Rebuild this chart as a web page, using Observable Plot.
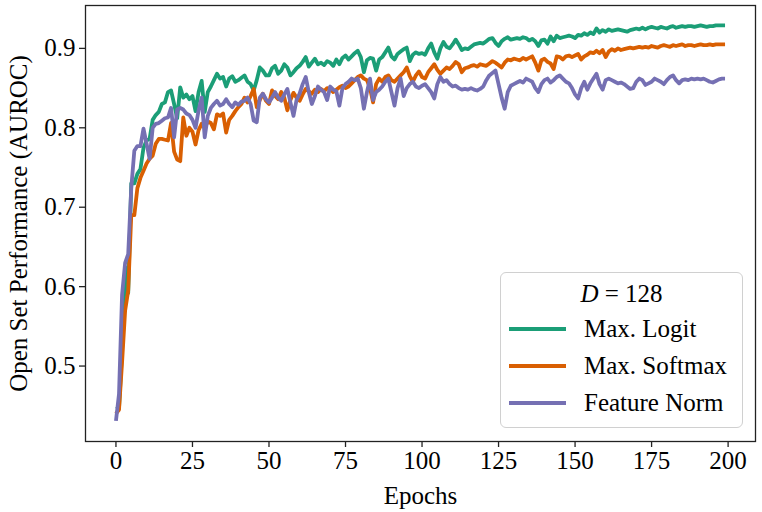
<!DOCTYPE html>
<html>
<head>
<meta charset="utf-8">
<script src="https://cdn.jsdelivr.net/npm/d3@7"></script>
<script src="https://cdn.jsdelivr.net/npm/@observablehq/plot@0.6"></script>
<style>
  html, body { margin: 0; padding: 0; background: #fff; }
  #wrap { position: relative; width: 762px; height: 512px; font-family: "Liberation Serif", "DejaVu Serif", serif; }
  #legend { position: absolute; left: 500px; top: 272px; width: 243px; height: 156px; box-sizing: border-box;
            border: 1.2px solid #d0d0d0; border-radius: 6px; background: rgba(255,255,255,0.85); }
  #legend .title { position: absolute; left: 0; right: 0; top: 6px; text-align: center; font-size: 25px; line-height: 30px; color: #000; }
  #legend .row { position: absolute; left: 0; height: 30px; width: 100%; }
  #legend .sw { position: absolute; left: 8px; top: 13px; width: 57px; height: 3.8px; }
  #legend .lab { position: absolute; left: 83px; top: 0; font-size: 25px; line-height: 30px; color: #000; white-space: nowrap; }
</style>
</head>
<body>
<div id="wrap"></div>
<script>
const seriesNames = ["Max. Logit", "Max. Softmax", "Feature Norm"];
const seriesColors = ["#1b9e77", "#d95f02", "#7570b3"];
const xTicks = [0, 25, 50, 75, 100, 125, 150, 175, 200];
const yTicks = [0.5, 0.6, 0.7, 0.8, 0.9];
const legendTitle = "D = 128";

const maxLogit = [
0.446,0.447,0.52,0.625,0.592,0.73,0.73,0.742,0.748,0.775,
0.784,0.786,0.81,0.816,0.82,0.83,0.832,0.845,0.847,0.83,
0.812,0.851,0.838,0.842,0.836,0.84,0.821,0.845,0.859,0.82,
0.845,0.852,0.86,0.868,0.862,0.864,0.852,0.862,0.865,0.858,
0.86,0.863,0.866,0.858,0.855,0.847,0.86,0.876,0.872,0.866,
0.866,0.875,0.878,0.868,0.872,0.88,0.876,0.866,0.87,0.875,
0.878,0.883,0.889,0.877,0.882,0.887,0.88,0.882,0.879,0.884,
0.882,0.878,0.886,0.88,0.888,0.891,0.886,0.89,0.894,0.897,
0.889,0.87,0.885,0.888,0.887,0.872,0.886,0.889,0.895,0.901,
0.89,0.886,0.893,0.896,0.899,0.901,0.884,0.892,0.895,0.893,
0.894,0.892,0.9,0.906,0.895,0.887,0.9,0.908,0.902,0.9,
0.905,0.911,0.905,0.898,0.9,0.899,0.902,0.905,0.906,0.907,
0.906,0.909,0.912,0.913,0.907,0.903,0.909,0.912,0.914,0.911,
0.912,0.913,0.912,0.914,0.913,0.91,0.912,0.909,0.903,0.91,
0.911,0.906,0.915,0.909,0.916,0.913,0.914,0.915,0.916,0.915,
0.913,0.917,0.916,0.919,0.917,0.92,0.918,0.925,0.92,0.923,
0.921,0.924,0.922,0.923,0.924,0.923,0.922,0.921,0.923,0.924,
0.925,0.924,0.926,0.924,0.926,0.927,0.926,0.925,0.927,0.926,
0.925,0.927,0.928,0.926,0.927,0.928,0.927,0.928,0.928,0.927,
0.928,0.929,0.928,0.927,0.928,0.928,0.929,0.929,0.929,0.929
];
const maxSoftmax = [
0.44,0.445,0.505,0.57,0.595,0.69,0.69,0.724,0.737,0.746,
0.755,0.761,0.765,0.78,0.786,0.786,0.785,0.784,0.806,0.77,
0.76,0.758,0.813,0.79,0.8,0.795,0.779,0.797,0.805,0.8,
0.808,0.806,0.798,0.817,0.815,0.818,0.794,0.81,0.815,0.821,
0.826,0.83,0.838,0.832,0.84,0.849,0.826,0.835,0.843,0.834,
0.83,0.847,0.84,0.836,0.845,0.838,0.822,0.835,0.844,0.838,
0.834,0.842,0.849,0.846,0.843,0.848,0.845,0.849,0.846,0.85,
0.849,0.845,0.848,0.851,0.853,0.85,0.852,0.856,0.86,0.864,
0.866,0.862,0.86,0.85,0.832,0.855,0.862,0.858,0.864,0.866,
0.86,0.858,0.862,0.866,0.87,0.876,0.865,0.858,0.866,0.871,
0.864,0.862,0.87,0.875,0.88,0.873,0.868,0.872,0.876,0.874,
0.878,0.883,0.88,0.87,0.875,0.876,0.878,0.879,0.877,0.88,
0.879,0.878,0.881,0.884,0.882,0.879,0.876,0.882,0.886,0.885,
0.887,0.886,0.885,0.888,0.886,0.888,0.89,0.882,0.872,0.885,
0.887,0.883,0.881,0.874,0.89,0.889,0.886,0.89,0.891,0.889,
0.891,0.893,0.886,0.89,0.892,0.895,0.894,0.897,0.894,0.898,
0.889,0.896,0.899,0.897,0.9,0.898,0.899,0.9,0.901,0.9,
0.901,0.902,0.901,0.902,0.901,0.903,0.902,0.901,0.903,0.904,
0.903,0.902,0.904,0.903,0.904,0.905,0.903,0.904,0.904,0.903,
0.904,0.905,0.904,0.904,0.905,0.904,0.905,0.905,0.905,0.905
];
const featureNorm = [
0.431,0.465,0.59,0.63,0.641,0.724,0.771,0.777,0.777,0.799,
0.78,0.761,0.8,0.805,0.806,0.809,0.812,0.813,0.825,0.788,
0.823,0.825,0.823,0.818,0.816,0.81,0.8,0.822,0.838,0.788,
0.815,0.825,0.83,0.834,0.828,0.83,0.836,0.83,0.826,0.832,
0.829,0.833,0.834,0.838,0.83,0.809,0.807,0.838,0.843,0.836,
0.832,0.838,0.845,0.838,0.834,0.842,0.849,0.832,0.815,0.835,
0.843,0.855,0.864,0.845,0.83,0.84,0.852,0.848,0.845,0.835,
0.852,0.848,0.846,0.828,0.85,0.855,0.858,0.862,0.86,0.862,
0.85,0.824,0.845,0.862,0.835,0.845,0.848,0.852,0.858,0.862,
0.845,0.828,0.85,0.862,0.84,0.85,0.855,0.858,0.852,0.85,
0.853,0.855,0.85,0.845,0.837,0.855,0.864,0.858,0.86,0.855,
0.852,0.853,0.85,0.848,0.849,0.848,0.85,0.848,0.847,0.849,
0.852,0.86,0.866,0.869,0.872,0.855,0.838,0.824,0.845,0.853,
0.855,0.857,0.859,0.857,0.862,0.86,0.858,0.85,0.845,0.855,
0.86,0.862,0.857,0.86,0.864,0.866,0.862,0.858,0.856,0.85,
0.842,0.837,0.85,0.858,0.848,0.856,0.862,0.868,0.855,0.848,
0.86,0.862,0.86,0.858,0.856,0.857,0.855,0.852,0.849,0.85,
0.858,0.862,0.86,0.854,0.856,0.858,0.862,0.86,0.858,0.855,
0.86,0.864,0.866,0.86,0.856,0.86,0.861,0.86,0.862,0.861,
0.862,0.861,0.862,0.86,0.858,0.857,0.859,0.861,0.862,0.862
];

const seriesValues = [maxLogit, maxSoftmax, featureNorm];
const data = [];
seriesNames.forEach((name, i) => {
  seriesValues[i].forEach((v, epoch) => data.push({ epoch, value: v, series: name }));
});

const font = '"Liberation Serif", "DejaVu Serif", serif';

const chart = Plot.plot({
  width: 762,
  height: 512,
  marginLeft: 85,
  marginRight: 7,
  marginTop: 5,
  marginBottom: 71,
  style: { fontFamily: font, fontSize: "25px", color: "#000", background: "#fff", overflow: "visible" },
  x: { domain: [-9.95, 208.95] },
  y: { domain: [0.405, 0.954] },
  color: { domain: seriesNames, range: seriesColors },
  marks: [
    Plot.line(data, { x: "epoch", y: "value", z: "series", stroke: "series", strokeWidth: 3.8, strokeLinejoin: "round", strokeLinecap: "butt" }),
    Plot.frame({ stroke: "#222", strokeWidth: 1.3 }),
    Plot.axisX({ ticks: xTicks, tickSize: 6, tickPadding: 4, label: null, fontSize: 25, stroke: "#222", strokeWidth: 1.3 }),
    Plot.axisY({ ticks: yTicks, tickSize: 6, tickPadding: 4, tickFormat: d3.format(".1f"), label: null, fontSize: 25, stroke: "#222", strokeWidth: 1.3 }),
    Plot.text(["Epochs"], { frameAnchor: "bottom", textAnchor: "middle", lineAnchor: "middle", dy: 54, fontSize: 25, fill: "#000" }),
    Plot.text(["Open Set Performance (AUROC)"], { frameAnchor: "left", textAnchor: "middle", lineAnchor: "middle", dx: -67, rotate: -90, fontSize: 25, fill: "#000" })
  ]
});

const wrap = document.getElementById("wrap");
wrap.appendChild(chart);

const legend = document.createElement("div");
legend.id = "legend";
const t = document.createElement("div");
t.className = "title";
t.innerHTML = legendTitle.replace(/^D/, "<i>D</i>");
legend.appendChild(t);
seriesNames.forEach((name, i) => {
  const row = document.createElement("div");
  row.className = "row";
  row.style.top = (41 + i * 37) + "px";
  const sw = document.createElement("div");
  sw.className = "sw";
  sw.style.background = seriesColors[i];
  const lab = document.createElement("div");
  lab.className = "lab";
  lab.textContent = name;
  row.appendChild(sw);
  row.appendChild(lab);
  legend.appendChild(row);
});
wrap.appendChild(legend);
</script>
</body>
</html>
